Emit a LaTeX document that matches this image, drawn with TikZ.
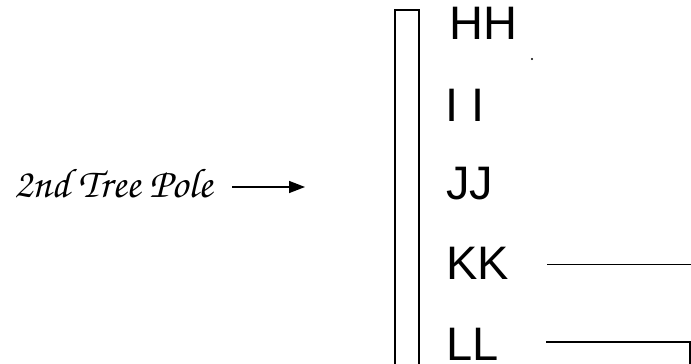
\documentclass[tikz,border=0pt]{standalone}
\usepackage{fontspec}
\setmainfont{Liberation Sans}
\usetikzlibrary{arrows.meta}
\begin{document}
\begin{tikzpicture}[x=1pt,y=-1pt,
  lbl/.style={anchor=base west,inner sep=0pt,font=\fontsize{47}{47}\selectfont},
  polestyle/.style={line width=1.6pt},
  branch/.style={line width=1.3pt},
  arr/.style={line width=1.5pt,-{Triangle[length=16pt,width=12pt]}}]
\useasboundingbox (0,0) rectangle (691,364);
\begin{scope}
\clip (0,0) rectangle (691,364);
\draw[polestyle] (395,380) -- (395,10) -- (419,10) -- (419,380);
\node[lbl] (hh) at (449,39) {HH};
\node[lbl] (ii) at (445,121) {I I};
\node[lbl] (jj) at (446,199) {JJ};
\node[lbl] (kk) at (446,279) {KK};
\node[lbl] (ll) at (446,360) {LL};
\coordinate (kka) at (547,264.5);
\coordinate (kkb) at (695,264.5);
\draw[branch] (kka) -- (kkb);
\coordinate (lla) at (546,342);
\coordinate (llc) at (690,342);
\coordinate (lld) at (690,372);
\draw[branch] (lla) -- (llc) -- (lld);
\fill (532,59) circle (1.1pt);
\end{scope}
\node[anchor=base west,inner sep=0pt,font=\usefont{OT1}{pzc}{mb}{it}\fontsize{41.5}{41.5}\selectfont] (label) at (14,197) {2nd Tree Pole};
\coordinate (arrs) at (232,187);
\coordinate (tip) at (305,187);
\draw[arr] (arrs) -- (tip);
\end{tikzpicture}
\end{document}
